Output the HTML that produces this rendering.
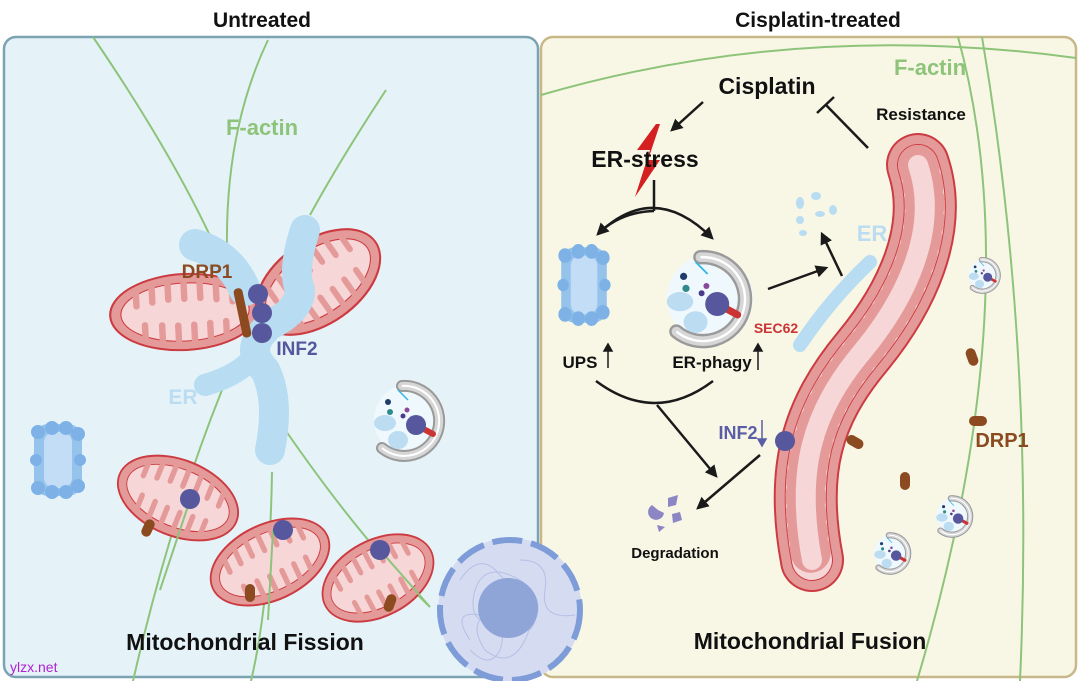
<!DOCTYPE html>
<html><head><meta charset="utf-8"><style>
html,body{margin:0;padding:0;background:#fff}
svg{display:block}
text{font-family:"Liberation Sans",sans-serif;font-weight:bold}
</style></head><body>
<svg width="1080" height="681" viewBox="0 0 1080 681" xmlns="http://www.w3.org/2000/svg">
<defs>
<marker id="ah" viewBox="0 0 10 10" refX="8" refY="5" markerWidth="5" markerHeight="5" orient="auto"><path d="M0,0 L10,5 L0,10 z" fill="#1a1a1a"/></marker>
<g id="mito">
 <ellipse cx="0" cy="0" rx="70" ry="38" fill="#e59a9a" stroke="#cc3b41" stroke-width="2"/>
 <ellipse cx="0" cy="0" rx="60" ry="29" fill="#f6d6d6" stroke="#cc3b41" stroke-width="1"/>
 <g stroke="#e59a9a" stroke-width="6" stroke-linecap="round">
  <path d="M-45 -22 v14 M-30 -27 v16 M-15 -29 v16 M0 -29 v16 M15 -29 v16 M30 -27 v16 M45 -22 v14"/>
  <path d="M-38 25 v-14 M-22 28 v-16 M-7 29 v-16 M8 29 v-16 M23 28 v-16 M38 25 v-14"/>
 </g>
</g>
<g id="auto">
 <circle cx="0" cy="0" r="36" fill="#eff8fc"/>
 <path d="M-8 -34 A35 35 0 1 1 -28 28" fill="none" stroke="#9a9a9a" stroke-width="12" stroke-linecap="round"/>
 <path d="M-8 -34 A35 35 0 1 1 -28 28" fill="none" stroke="#d6d6d6" stroke-width="8" stroke-linecap="round"/>
 <path d="M-8 -34 A35 35 0 1 1 -28 28" fill="none" stroke="#fff" stroke-width="2"/>
 <ellipse cx="-25" cy="3" rx="11" ry="8" fill="#bcdcf2"/>
 <ellipse cx="-12" cy="20" rx="10" ry="9" fill="#bcdcf2"/>
 <circle cx="-22" cy="-18" r="3" fill="#1e3d6b"/><circle cx="-20" cy="-8" r="3" fill="#2f8a8a"/>
 <circle cx="-3" cy="-10" r="2.5" fill="#8a4a9a"/><circle cx="-7" cy="-4" r="2.5" fill="#4a3a8a"/>
 <path d="M-12 -30 q6 6 10 10" stroke="#34b5e5" stroke-width="1.5" fill="none"/>
 <line x1="8" y1="6" x2="23" y2="14" stroke="#cc3333" stroke-width="6" stroke-linecap="round"/>
 <circle cx="6" cy="5" r="10" fill="#56579c"/>
</g>
<g id="drp"><rect x="-5" y="-9" width="10" height="18" rx="5" fill="#8b4a1f"/></g>
<g id="prot">
 <rect x="-24" y="-36" width="48" height="72" rx="14" fill="#95c3ec"/>
 <rect x="-14" y="-28" width="28" height="56" rx="10" fill="#c2ddf5"/>
 <g fill="#7eb2e6"><circle cx="-20" cy="-28" r="7"/><circle cx="-6" cy="-32" r="7"/><circle cx="8" cy="-32" r="7"/><circle cx="20" cy="-26" r="7"/><circle cx="-20" cy="28" r="7"/><circle cx="-6" cy="32" r="7"/><circle cx="8" cy="32" r="7"/><circle cx="20" cy="26" r="7"/><circle cx="-22" cy="0" r="6"/><circle cx="22" cy="0" r="6"/></g>
</g>
</defs>

<text x="262" y="27" font-size="21" text-anchor="middle" fill="#111">Untreated</text>
<text x="818" y="27" font-size="21" text-anchor="middle" fill="#111">Cisplatin-treated</text>

<rect x="4" y="37" width="534" height="640" rx="12" fill="#e5f3f9" stroke="#7ba3b1" stroke-width="2.5"/>
<rect x="541" y="37" width="535" height="640" rx="12" fill="#f8f7e6" stroke="#c8b887" stroke-width="2.5"/>

<!-- left actin -->
<g stroke="#8dc47a" stroke-width="2" fill="none">
 <path d="M93 37 Q170 150 212 240"/>
 <path d="M268 40 Q225 130 227 250"/>
 <path d="M386 90 Q340 160 310 215"/>
 <path d="M222 390 Q170 520 133 681"/>
 <path d="M272 472 Q270 600 251 681"/>
 <path d="M275 415 Q360 540 430 607"/>
</g>
<text x="262" y="135" font-size="22" text-anchor="middle" fill="#8dc47a">F-actin</text>

<!-- mitos left -->
<use href="#mito" transform="translate(185,312) rotate(-3) scale(1.07,1)"/>
<use href="#mito" transform="translate(318,282) rotate(-35) scale(1,1.1)"/>
<!-- ER left -->
<g stroke="#b8dcf1" stroke-linecap="round" stroke-linejoin="round" fill="none">
 <path d="M195 245 Q230 255 245 290" stroke-width="32"/>
 <path d="M305 230 Q292 270 300 290 Q300 310 270 325" stroke-width="30"/>
 <path d="M265 330 Q245 350 265 370 Q280 400 270 450" stroke-width="30"/>
 <path d="M205 385 Q240 375 255 355" stroke-width="22"/>
</g>
<g fill="#8b4a1f"><rect x="238" y="288" width="9" height="50" rx="4" transform="rotate(-12 242 313)"/></g>
<g fill="#56579c"><circle cx="258" cy="294" r="10"/><circle cx="262" cy="313" r="10"/><circle cx="262" cy="333" r="10"/></g>
<text x="207" y="278" font-size="19" text-anchor="middle" fill="#8b4a1f">DRP1</text>
<text x="297" y="355" font-size="19" text-anchor="middle" fill="#56579c">INF2</text>
<text x="183" y="404" font-size="21" text-anchor="middle" fill="#bcdcf2">ER</text>

<use href="#prot" transform="translate(58,460)"/>
<use href="#auto" transform="translate(410,420)"/>

<use href="#mito" transform="translate(178,498) rotate(22) scale(0.9,1)"/>
<use href="#mito" transform="translate(270,562) rotate(-25) scale(0.9,1)"/>
<use href="#mito" transform="translate(378,578) rotate(-28) scale(0.85,1)"/>
<g stroke="#8dc47a" stroke-width="2" fill="none"><path d="M190 500 L160 590"/><path d="M273 530 L268 620"/><path d="M380 550 L430 607"/></g>
<use href="#drp" transform="translate(148,528) rotate(25)"/>
<use href="#drp" transform="translate(250,593)"/>
<use href="#drp" transform="translate(390,603) rotate(20)"/>
<g fill="#56579c"><circle cx="190" cy="499" r="10"/><circle cx="283" cy="530" r="10"/><circle cx="380" cy="550" r="10"/></g>

<text x="245" y="650" font-size="23" text-anchor="middle" fill="#111">Mitochondrial Fission</text>
<text x="10" y="672" font-size="14" fill="#b020d0" style="font-weight:normal">ylzx.net</text>

<!-- right actin -->
<g stroke="#8dc47a" stroke-width="2" fill="none">
 <path d="M541 95 Q800 20 1076 58"/>
 <path d="M958 37 Q1030 300 917 681"/>
 <path d="M982 37 Q1035 350 1020 681"/>
</g>
<text x="930" y="75" font-size="22" text-anchor="middle" fill="#8dc47a">F-actin</text>

<!-- big mito -->
<g fill="none" stroke-linecap="round">
 <path d="M918 165 C940 230 905 300 862 352 C812 412 795 470 812 560" stroke="#cc3b41" stroke-width="64"/>
 <path d="M918 165 C940 230 905 300 862 352 C812 412 795 470 812 560" stroke="#e59a9a" stroke-width="60"/>
 <path d="M918 165 C940 230 905 300 862 352 C812 412 795 470 812 560" stroke="#cc3b41" stroke-width="42"/>
 <path d="M918 165 C940 230 905 300 862 352 C812 412 795 470 812 560" stroke="#f6d6d6" stroke-width="40"/>
 <path d="M918 165 C940 230 905 300 862 352 C812 412 795 470 812 560" stroke="#e59a9a" stroke-width="40" stroke-dasharray="5 13"/>
 <path d="M918 165 C940 230 905 300 862 352 C812 412 795 470 812 560" stroke="#f6d6d6" stroke-width="20"/>
</g>
<path d="M870 262 Q830 300 800 345" stroke="#b8dcf1" stroke-width="14" stroke-linecap="round" fill="none"/>
<text x="872" y="241" font-size="22" text-anchor="middle" fill="#bcdcf2">ER</text>
<g fill="#b8dcf1"><ellipse cx="800" cy="203" rx="4" ry="6"/><ellipse cx="816" cy="196" rx="5" ry="4"/><ellipse cx="820" cy="214" rx="5" ry="3"/><ellipse cx="833" cy="210" rx="4" ry="5"/><ellipse cx="800" cy="220" rx="4" ry="4"/><ellipse cx="803" cy="233" rx="4" ry="3"/></g>

<use href="#prot" transform="translate(584,285) scale(0.95,1.05)"/>
<use href="#auto" transform="translate(710,298) scale(1.2)"/>
<use href="#auto" transform="translate(985,275) scale(0.45)"/>
<use href="#auto" transform="translate(955,516) scale(0.52)"/>
<use href="#auto" transform="translate(893,553) scale(0.52)"/>
<use href="#drp" transform="translate(972,357) rotate(-20)"/>
<use href="#drp" transform="translate(978,421) rotate(90)"/>
<use href="#drp" transform="translate(905,481)"/>
<use href="#drp" transform="translate(855,442) rotate(-60)"/>
<circle cx="785" cy="441" r="10" fill="#56579c"/>

<!-- lightning -->
<path d="M656 124 L637 150 L650 150 L635 197 L660 160 L648 160 L660 124 z" fill="#d42020"/>
<text x="767" y="94" font-size="23" text-anchor="middle" fill="#111">Cisplatin</text>
<text x="921" y="120" font-size="17" text-anchor="middle" fill="#111">Resistance</text>
<text x="645" y="167" font-size="23" text-anchor="middle" fill="#111">ER-stress</text>
<text x="580" y="368" font-size="17" text-anchor="middle" fill="#111">UPS</text>
<text x="712" y="368" font-size="17" text-anchor="middle" fill="#111">ER-phagy</text>
<text x="776" y="333" font-size="14" text-anchor="middle" fill="#cc3333">SEC62</text>
<text x="738" y="439" font-size="18" text-anchor="middle" fill="#5b5ea6">INF2</text>
<text x="675" y="558" font-size="15" text-anchor="middle" fill="#111">Degradation</text>
<text x="1002" y="447" font-size="20" text-anchor="middle" fill="#8b4a1f">DRP1</text>
<text x="810" y="649" font-size="23" text-anchor="middle" fill="#111">Mitochondrial Fusion</text>

<g stroke="#1a1a1a" stroke-width="2.5" fill="none">
 <line x1="703" y1="102" x2="672" y2="130" marker-end="url(#ah)"/>
 <line x1="868" y1="148" x2="826" y2="105"/>
 <line x1="817" y1="113" x2="834" y2="97"/>
 <line x1="654" y1="180" x2="654" y2="211"/>
 <path d="M598 234 Q654 180 712 238" marker-end="url(#ah)"/>
 <path d="M654 211 Q620 212 598 234" marker-end="url(#ah)"/>
 <line x1="768" y1="289" x2="826" y2="268" marker-end="url(#ah)"/>
 <line x1="842" y1="276" x2="822" y2="234" marker-end="url(#ah)"/>
 <path d="M596 381 Q655 425 713 381"/>
 <line x1="657" y1="405" x2="716" y2="476" marker-end="url(#ah)"/>
 <line x1="760" y1="455" x2="698" y2="508" marker-end="url(#ah)"/>
</g>
<g stroke="#1a1a1a" stroke-width="1.5"><line x1="608" y1="368" x2="608" y2="347"/><path d="M604 351 L608 344 L612 351z" fill="#1a1a1a"/><line x1="758" y1="370" x2="758" y2="347"/><path d="M754 351 L758 344 L762 351z" fill="#1a1a1a"/></g>
<g stroke="#5b5ea6" stroke-width="1.5"><line x1="762" y1="420" x2="762" y2="443"/><path d="M758 439 L762 446 L766 439z" fill="#5b5ea6"/></g>
<g fill="#8d86c4"><path d="M652 505 a8 8 0 1 0 12 8 l-6 -3z"/><path d="M668 498 l10 -3 l-2 10 l-8 2z"/><path d="M672 514 l8 -2 l2 8 l-9 3z"/><path d="M657 525 l8 2 l-6 5z"/></g>

<!-- nucleus -->
<circle cx="510" cy="610" r="72" fill="#d5dbf0"/>
<g fill="none" stroke="#b4c0e6" stroke-width="1">
 <path d="M460 580 q20 -30 40 -5 q25 25 -5 35 q-30 10 -10 40 q25 20 40 -10 q15 -30 -20 -20 q-40 10 -30 -30 q10 -30 45 -10 q30 20 10 50 M470 640 q-20 -30 10 -25 q30 5 20 35 q-10 20 -30 0 M520 560 q30 0 25 30 q-5 30 30 25"/>
</g>
<circle cx="508" cy="608" r="30" fill="#8fa5d8"/>
<circle cx="510" cy="610" r="70" fill="none" stroke="#7d9cd8" stroke-width="6" stroke-dasharray="30 9"/>
</svg>
</body></html>
